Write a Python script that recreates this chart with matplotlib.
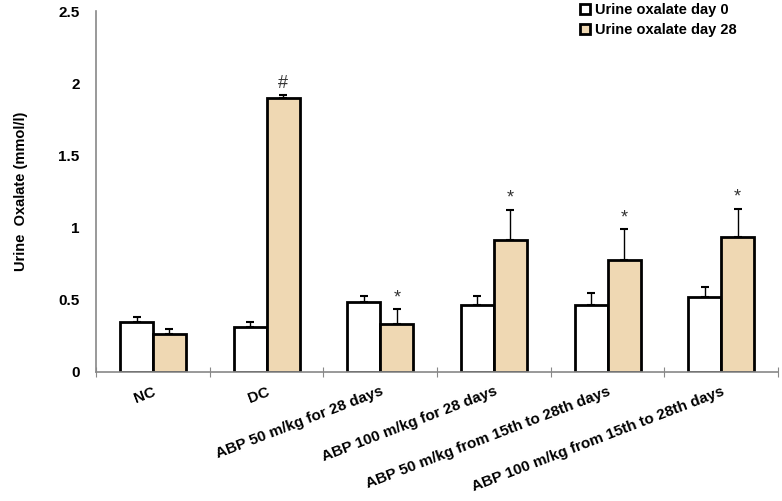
import numpy as np
import matplotlib.pyplot as plt

# data
groups = ['NC', 'DC', 'ABP 50 m/kg for 28 days', 'ABP 100 m/kg for 28 days',
          'ABP 50 m/kg from 15th to 28th days', 'ABP 100 m/kg from 15th to 28th days']
day0 = [0.345, 0.31, 0.485, 0.465, 0.465, 0.52]
day0_err = [0.035, 0.035, 0.04, 0.06, 0.085, 0.07]
day28 = [0.265, 1.90, 0.33, 0.915, 0.775, 0.935]
day28_err = [0.03, 0.02, 0.105, 0.21, 0.215, 0.195]
marks = ['', '#', '*', '*', '*', '*']

plt.rcParams['font.family'] = ['Liberation Sans', 'DejaVu Sans']
plt.rcParams['font.weight'] = 'bold'
plt.rcParams['axes.labelweight'] = 'bold'

fig = plt.figure(figsize=(7.82, 5.01), dpi=100)
ax = fig.add_axes([0.123, 0.2575, 0.872, 0.7205])

x = np.arange(len(groups)) + 0.5
w = 0.29
tan = '#efd8b3'

ax.bar(x - w / 2, day0, w, color='white', edgecolor='black', linewidth=2,
       label='Urine oxalate day 0', zorder=2)
ax.bar(x + w / 2, day28, w, color=tan, edgecolor='black', linewidth=2,
       label='Urine oxalate day 28', zorder=2)
ax.errorbar(x - w / 2, day0, yerr=[np.zeros(len(day0)), day0_err], fmt='none',
            ecolor='black', elinewidth=1, capsize=3, capthick=1.5, zorder=1)
ax.errorbar(x + w / 2, day28, yerr=[np.zeros(len(day28)), day28_err], fmt='none',
            ecolor='black', elinewidth=1, capsize=3, capthick=1.5, zorder=1)

for xi, v, e, m in zip(x, day28, day28_err, marks):
    if m:
        ax.text(xi + w / 2, v + e + 0.02, m, ha='center', va='bottom',
                fontsize=13, fontweight='normal', color='#333333')

ax.set_xlim(0, len(groups))
ax.set_ylim(0, 2.5)
ax.set_yticks([0, 0.5, 1, 1.5, 2, 2.5])
ax.set_yticklabels(['0', '0.5', '1', '1.5', '2', '2.5'], fontweight='bold')
ax.tick_params(axis='y', length=0, pad=12, labelsize=11)

ax.set_xticks(np.arange(len(groups) + 1))
ax.set_xticklabels([])
ax.tick_params(axis='x', which='major', direction='inout', length=7, color='#888888')
ax.set_xticks(x, minor=True)
ax.set_xticklabels(groups, minor=True, rotation=21, ha='right',
                   rotation_mode='anchor', fontsize=11, fontweight='bold')
ax.tick_params(axis='x', which='minor', length=0, pad=9)

for s in ['top', 'right']:
    ax.spines[s].set_visible(False)
for s in ['left', 'bottom']:
    ax.spines[s].set_color('#888888')
    ax.spines[s].set_linewidth(1.2)

ax.set_ylabel('Urine  Oxalate (mmol/l)', fontsize=10.5, labelpad=22)

ax.legend(loc='upper left', bbox_to_anchor=(0.725, 1.02), bbox_transform=fig.transFigure,
          frameon=False, fontsize=10.5, handlelength=0.7, handleheight=0.7,
          handletextpad=0.3, labelspacing=0.4)

plt.savefig('out.png', dpi=100)
